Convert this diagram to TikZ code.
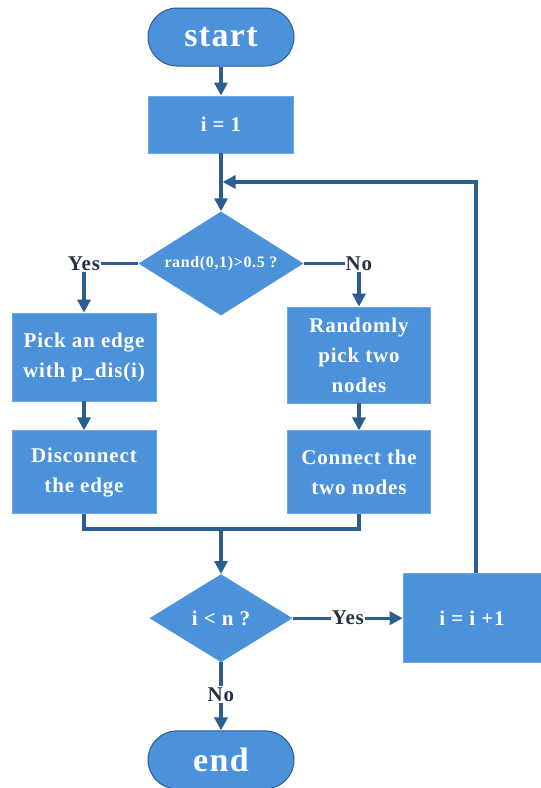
\documentclass[tikz,border=0pt]{standalone}
\usepackage{fontspec}
\setmainfont{Liberation Serif}[LetterSpace=4]
\usetikzlibrary{positioning,shapes.geometric,arrows.meta}
\definecolor{boxblue}{RGB}{76,146,219}
\definecolor{lineblue}{RGB}{45,92,142}
\definecolor{labeldark}{RGB}{40,50,66}
\tikzset{
    box/.style={rectangle, fill=boxblue, draw=boxblue!80!white, line width=0.8pt, text=white, align=center,
        inner sep=0pt, font=\fontsize{21}{30}\selectfont\bfseries},
    terminal/.style={rectangle, rounded corners=29pt, fill=boxblue, draw=lineblue, line width=1pt, text=white,
        minimum width=146pt, minimum height=58pt, font=\fontsize{34}{40}\selectfont\bfseries},
    decision/.style={diamond, fill=boxblue, text=white, inner sep=0pt},
    answer/.style={text=labeldark, inner sep=1pt, font=\fontsize{21}{24}\selectfont\bfseries},
    flow/.style={draw=lineblue, line width=3.2pt, -{Triangle[width=13pt,length=13pt]}},
    wire/.style={draw=lineblue, line width=3.2pt, -}
}
\begin{document}
\begin{tikzpicture}[x=1pt, y=-1pt]
            \useasboundingbox (0,0) rectangle (541,788);

            \node (start) [terminal] at (221,37) {start};
            \node (init) [box, minimum width=145pt, minimum height=57pt, below=29pt of start] {i = 1};
            \node (cond) [decision, aspect=1.6, minimum width=165pt, minimum height=104pt, below=58pt of init,
                font=\fontsize{16}{18}\selectfont\bfseries] {rand(0,1)>0.5 ?};
            \node (pick) [box, minimum width=144pt, minimum height=88pt] at (84,357) {Pick an edge\\with p\_dis(i)};
            \node (disc) [box, minimum width=144pt, minimum height=83pt, below=29pt of pick] {Disconnect\\the edge};
            \node (rand) [box, minimum width=143pt, minimum height=96pt] at (359,355) {Randomly\\pick two\\nodes};
            \node (conn) [box, minimum width=143pt, minimum height=83pt, below=27pt of rand] {Connect the\\two nodes};
            \node (yes1) [answer] at (pick |- cond) {Yes};
            \node (no1) [answer] at (rand |- cond) {No};
            \coordinate (join) at (221,529);
            \node (cond2) [decision, aspect=1.6, minimum width=143pt, minimum height=88pt, below=45pt of join,
                font=\fontsize{21}{24}\selectfont\bfseries] {i < n ?};
            \node (inc) [box, minimum width=138pt, minimum height=89pt, right=110pt of cond2] {i = i +1};
            \node (yes2) [answer, right=38pt of cond2] {Yes};
            \node (end) [terminal, below=68pt of cond2] {end};
            \node (no2) [answer, below=24pt of cond2] {No};
            \coordinate (turn) at (476,182);
            \coordinate (merge) at (cond |- turn);

            \path[every edge/.style={flow}]
            (start) edge (init)
            (init) edge (cond)
            (yes1) edge (pick)
            (no1) edge (rand)
            (pick) edge (disc)
            (rand) edge (conn)
            (join) edge (cond2)
            (yes2) edge (inc)
            (no2) edge (end);

            \path[every edge/.style={wire}]
            (cond) edge (yes1)
            (cond) edge (no1)
            (cond2) edge (yes2)
            (cond2) edge (no2);

            \draw[wire] (disc.south) |- (join) -| (conn.south);
            \draw[flow, shorten >=1.6pt] (inc.north -| turn) |- (merge);
        \end{tikzpicture}
\end{document}
